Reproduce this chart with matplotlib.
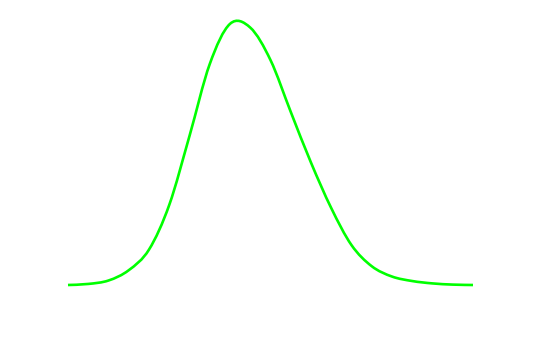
import numpy as np
import matplotlib.pyplot as plt
from matplotlib.path import Path
from matplotlib.patches import PathPatch

# curve values (x from 0 to 10, peak ~100)
x = [0, 0.5, 1.0, 1.5, 2.0, 2.5, 3.0, 3.5, 4.0, 4.5, 5.0,
     5.5, 6.0, 6.5, 7.0, 7.5, 8.0, 8.5, 9.0, 9.5, 10]
y = [0, 0.4, 1.7, 5.6, 13.4, 30.3, 56.4, 83.6, 98.8, 97.4, 85.1,
     65.5, 46.3, 29.1, 15.1, 7.1, 3.2, 1.5, 0.6, 0.15, 0]


def smooth_path(xs, ys):
    # catmull-rom style bezier through the points (like a "smooth" line)
    pts = np.column_stack([xs, ys])
    verts = [pts[0]]
    codes = [Path.MOVETO]
    n = len(pts)
    for i in range(n - 1):
        p0 = pts[max(i - 1, 0)]
        p1 = pts[i]
        p2 = pts[i + 1]
        p3 = pts[min(i + 2, n - 1)]
        c1 = p1 + (p2 - p0) / 6
        c2 = p2 - (p3 - p1) / 6
        verts += [c1, c2, p2]
        codes += [Path.CURVE4] * 3
    return Path(verts, codes)


fig = plt.figure(figsize=(5.4, 3.6), dpi=100)
ax = fig.add_axes([68 / 540, 1 - 285 / 360, 405 / 540, (285 - 20.7) / 360])
ax.add_patch(PathPatch(smooth_path(x, y), facecolor='none', edgecolor='#00ff00',
                       linewidth=1.9, clip_on=False, capstyle='butt'))
ax.set_xlim(0, 10)
ax.set_ylim(0, 100)
ax.axis('off')

fig.savefig('out.png', dpi=100)
